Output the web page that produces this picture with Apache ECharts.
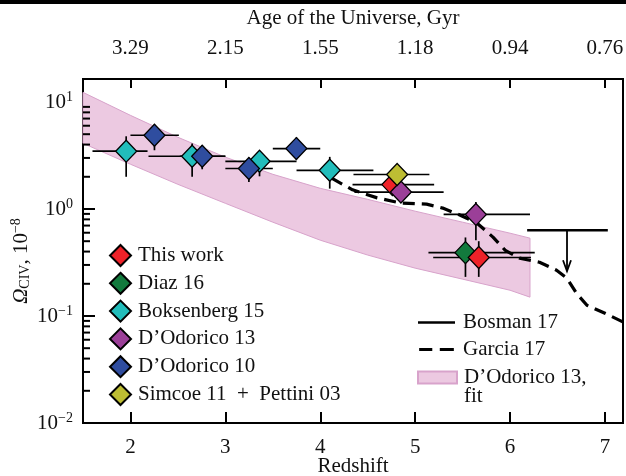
<!DOCTYPE html>
<html>
<head>
<meta charset="utf-8">
<script src="https://cdn.jsdelivr.net/npm/echarts@6/dist/echarts.min.js"></script>
<style>
  html, body { margin: 0; padding: 0; background: #fff; }
  #chart { width: 626px; height: 476px; }
</style>
</head>
<body>
<div id="chart"></div>
<script>
const FONT = 'Liberation Serif';
const INK = '#111';

// Redshift ticks and the age of the Universe at each of them (Gyr)
const redshiftTicks = [2, 3, 4, 5, 6, 7];
const ageLabels = ['3.29', '2.15', '1.55', '1.18', '0.94', '0.76'];

// Measurements, one row per point: [z, Ω, zLow, zHigh, ΩLow, ΩHigh]
const thisWork    = [[4.76, 1.69, 4.34, 5.20, 1.42, 2.00], [5.67, 0.352, 5.19, 6.22, 0.232, 0.50]];
const diaz16      = [[5.53, 0.391, 5.14, 6.26, 0.232, 0.542]];
const boksenberg15 = [
  [1.955, 3.47, 1.60, 2.18, 2.00, 4.78],
  [2.65, 3.11, 2.19, 3.00, 2.00, 4.09],
  [3.36, 2.79, 3.00, 3.75, 2.02, 3.49],
  [4.10, 2.30, 3.75, 4.56, 1.55, 3.07]
];
const dodorico13  = [[4.85, 1.44, 4.36, 5.30, 1.20, 1.70], [5.64, 0.89, 5.30, 6.21, 0.51, 1.16]];
const dodorico10  = [
  [2.253, 4.89, 2.00, 2.51, 3.54, 6.15],
  [2.756, 3.11, 2.52, 3.00, 2.35, 3.94],
  [3.248, 2.39, 3.00, 3.50, 1.79, 3.03],
  [3.748, 3.67, 3.50, 4.00, 2.90, 4.65]
];
const simcoePettini = [[4.81, 2.10, 4.35, 5.15, 1.70, 2.56]];

// Bosman 17 upper limit: horizontal bar and arrow
const bosmanBar   = [[6.18, 0.634], [7.03, 0.634]];
const bosmanArrow = [[6.60, 0.634, 0.262]];

// Garcia 17 curve
const garciaZ     = [4.12, 4.34, 4.60, 4.84, 5.12, 5.29, 5.47, 5.65, 5.82, 5.95, 6.10, 6.31, 6.49, 6.60, 6.70, 6.81, 7.00, 7.19];
const garciaOmega = [1.94, 1.51, 1.27, 1.14, 1.11, 1.02, 0.88, 0.74, 0.546, 0.41, 0.347, 0.318, 0.268, 0.225, 0.163, 0.126, 0.106, 0.088];

// D'Odorico 13 fit band
const bandZ    = [1.5, 2.0, 2.5, 3.0, 3.5, 4.0, 4.5, 5.0, 5.5, 6.0, 6.21];
const bandLow  = [4.11, 2.62, 1.70, 1.13, 0.753, 0.511, 0.371, 0.280, 0.221, 0.174, 0.150];
const bandHigh = [12.3, 7.5, 4.68, 3.05, 2.11, 1.56, 1.23, 0.954, 0.753, 0.594, 0.534];

// Minor ticks of the logarithmic Ω axis
const minorTicks = [];
[0.01, 0.1, 1].forEach(d => { for (let k = 2; k <= 9; k++) minorTicks.push(+(k * d).toPrecision(3)); });

const Z_MIN = 1.5, Z_MAX = 7.19;

const pointSets = [
  { name: 'Diaz 16', data: diaz16, color: '#127a3d' },
  { name: 'This work', data: thisWork, color: '#ee2229' },
  { name: 'Boksenberg 15', data: boksenberg15, color: '#22bdbb' },
  { name: 'D’Odorico 13', data: dodorico13, color: '#9b3f98' },
  { name: 'D’Odorico 10', data: dodorico10, color: '#2f4d9f' },
  { name: 'Simcoe 11  +  Pettini 03', data: simcoePettini, color: '#bdbd33' }
];

const errorRows = [];
pointSets.forEach(s => s.data.forEach(r => errorRows.push(r)));

const chart = echarts.init(document.getElementById('chart'), null, { renderer: 'canvas' });

const supStyle = { fontFamily: FONT, fontSize: 14, color: INK, padding: [0, 0, 10, 0] };
const baseStyle = { fontFamily: FONT, fontSize: 21, color: INK };

function decadeLabel(v) {
  const e = Math.log10(v);
  const r = Math.round(e);
  if (Math.abs(e - r) > 1e-6) return '';
  return '{b|10}{s|' + (r < 0 ? '\u2212' + (-r) : r) + '}';
}

const series = [];

// fit band
series.push({
  name: 'D’Odorico 13, fit',
  type: 'custom',
  z: 1,
  data: bandZ.map((z, i) => [z, bandLow[i], bandHigh[i]]),
  encode: { x: 0, y: [1, 2] },
  itemStyle: { color: '#ecc9e1', borderColor: '#d8a3cb', borderWidth: 1 },
  renderItem(params, api) {
    if (params.dataIndex !== 0) return null;
    const pts = [];
    for (let i = 0; i < bandZ.length; i++) pts.push(api.coord([bandZ[i], bandHigh[i]]));
    for (let i = bandZ.length - 1; i >= 0; i--) pts.push(api.coord([bandZ[i], bandLow[i]]));
    return { type: 'polygon', shape: { points: pts }, style: { fill: '#ecc9e1', stroke: '#d8a3cb', lineWidth: 1 } };
  },
  silent: true
});

// Garcia 17
series.push({
  name: 'Garcia 17',
  type: 'line',
  z: 2,
  data: garciaZ.map((z, i) => [z, garciaOmega[i]]),
  symbol: 'none',
  itemStyle: { color: '#000' },
  lineStyle: { color: '#000', width: 3.2, type: [12, 7] },
  silent: true
});

// Bosman 17
series.push({
  name: 'Bosman 17',
  type: 'line',
  z: 2,
  data: bosmanBar,
  symbol: 'none',
  itemStyle: { color: '#000' },
  lineStyle: { color: '#000', width: 2.5 },
  silent: true
});
series.push({
  name: 'Bosman 17 arrow',
  type: 'custom',
  z: 2,
  data: bosmanArrow,
  encode: { x: 0, y: [1, 2] },
  renderItem(params, api) {
    const top = api.coord([api.value(0), api.value(1)]);
    const tip = api.coord([api.value(0), api.value(2)]);
    return {
      type: 'group',
      children: [
        { type: 'line', shape: { x1: top[0], y1: top[1], x2: tip[0], y2: tip[1] }, style: { stroke: '#000', lineWidth: 1.8 } },
        { type: 'polyline', shape: { points: [[tip[0] - 4, tip[1] - 11], [tip[0], tip[1]], [tip[0] + 4, tip[1] - 11]] }, style: { stroke: '#000', lineWidth: 1.8, fill: null } }
      ]
    };
  },
  silent: true
});

// error bars
series.push({
  name: 'errors',
  type: 'custom',
  z: 3,
  data: errorRows,
  encode: { x: [0, 2, 3], y: [1, 4, 5] },
  renderItem(params, api) {
    const z = api.value(0), om = api.value(1);
    const l = api.coord([api.value(2), om]);
    const r = api.coord([api.value(3), om]);
    const lo = api.coord([z, api.value(4)]);
    const hi = api.coord([z, api.value(5)]);
    const st = { stroke: '#000', lineWidth: 1.7 };
    return {
      type: 'group',
      children: [
        { type: 'line', shape: { x1: l[0], y1: l[1], x2: r[0], y2: r[1] }, style: st },
        { type: 'line', shape: { x1: lo[0], y1: lo[1], x2: hi[0], y2: hi[1] }, style: st }
      ]
    };
  },
  silent: true
});

// diamonds
pointSets.forEach((s, i) => {
  series.push({
    name: s.name,
    type: 'scatter',
    z: 4 + i,
    data: s.data.map(r => [r[0], r[1]]),
    symbol: 'diamond',
    symbolSize: [21, 22],
    itemStyle: { color: s.color, borderColor: '#000', borderWidth: 1.3, opacity: 1 },
    silent: true
  });
});

// minor ticks on the Ω axis
series.push({
  name: 'minor ticks',
  type: 'custom',
  z: 10,
  data: minorTicks.map(v => [Z_MIN, v]),
  renderItem(params, api) {
    const p = api.coord([api.value(0), api.value(1)]);
    return { type: 'line', shape: { x1: p[0], y1: p[1], x2: p[0] + 7, y2: p[1] }, style: { stroke: '#000', lineWidth: 2 } };
  },
  clip: false,
  silent: true
});

const option = {
  animation: false,
  backgroundColor: '#fff',
  textStyle: { fontFamily: FONT },
  grid: {
    left: 83, right: 3, top: 79, bottom: 53, containLabel: false, outerBoundsMode: 'none',
    show: true, borderColor: '#000', borderWidth: 2, backgroundColor: 'transparent'
  },
  xAxis: [
    {
      type: 'value', position: 'bottom', min: Z_MIN, max: Z_MAX,
      axisLine: { lineStyle: { color: '#000', width: 2 } },
      axisTick: { inside: true, length: 11, lineStyle: { color: '#000', width: 2 }, customValues: redshiftTicks },
      axisLabel: { customValues: redshiftTicks, margin: 14, fontFamily: FONT, fontSize: 21, color: INK },
      splitLine: { show: false },
      name: 'Redshift', nameLocation: 'middle', nameGap: 33, nameMoveOverlap: false,
      nameTextStyle: { fontFamily: FONT, fontSize: 21, color: INK }
    },
    {
      type: 'value', position: 'top', min: Z_MIN, max: Z_MAX,
      axisLine: { lineStyle: { color: '#000', width: 2 } },
      axisTick: { inside: true, length: 9, lineStyle: { color: '#000', width: 2 }, customValues: redshiftTicks },
      axisLabel: {
        customValues: redshiftTicks, margin: 20, fontFamily: FONT, fontSize: 21, color: INK,
        formatter: v => ageLabels[redshiftTicks.indexOf(Math.round(v))]
      },
      splitLine: { show: false },
      name: 'Age of the Universe, Gyr', nameLocation: 'middle', nameGap: 50,
      nameTextStyle: { fontFamily: FONT, fontSize: 21, color: INK }
    }
  ],
  yAxis: {
    type: 'log', logBase: 10, min: 0.01, max: 16.4,
    axisLine: { lineStyle: { color: '#000', width: 2 } },
    axisTick: { inside: true, length: 12, lineStyle: { color: '#000', width: 2 } },
    axisLabel: { margin: 10, formatter: decadeLabel, rich: { b: baseStyle, s: supStyle } },
    splitLine: { show: false },
    minorTick: { show: false },
    name: '{o|Ω}{c|CIV}{t|, 10}{s|\u22128}{p|}',
    nameLocation: 'middle', nameGap: 50, nameRotate: 90, nameMoveOverlap: false,
    nameTextStyle: {
      rich: {
        o: { fontFamily: FONT, fontSize: 21, fontStyle: 'italic', color: INK },
        c: { fontFamily: FONT, fontSize: 14, color: INK, padding: [8, 0, 0, 0] },
        t: { fontFamily: FONT, fontSize: 21, color: INK },
        s: supStyle,
        p: { width: 20, fontSize: 21 }
      }
    }
  },
  legend: [
    {
      data: ['This work', 'Diaz 16', 'Boksenberg 15', 'D’Odorico 13', 'D’Odorico 10', 'Simcoe 11  +  Pettini 03'],
      orient: 'vertical', left: 109, top: 244, padding: 0,
      itemWidth: 21, itemHeight: 21, itemGap: 4.8, itemSymbolKeepAspect: true,
      selectedMode: false,
      textStyle: { fontFamily: FONT, fontSize: 21, color: INK, padding: [0, 0, 0, 2] }
    },
    {
      data: [
        { name: 'Bosman 17', icon: 'path://M0,0H37V2.5H0Z' },
        { name: 'Garcia 17', icon: 'path://M0,0H14V3.2H0Z M22,0H37V3.2H22Z' }
      ],
      orient: 'vertical', left: 418, top: 312, padding: 0,
      itemWidth: 37, itemHeight: 3, itemGap: 6, itemSymbolKeepAspect: false, selectedMode: false,
      itemStyle: { color: '#000', borderWidth: 0 },
      textStyle: { fontFamily: FONT, fontSize: 21, color: INK, padding: [0, 0, 0, 3] }
    },
    {
      data: [{ name: 'D’Odorico 13, fit', icon: 'rect' }],
      formatter: () => 'D’Odorico 13,',
      orient: 'vertical', left: 417, top: 367, padding: 0,
      itemWidth: 39, itemHeight: 12, selectedMode: false,
      textStyle: { fontFamily: FONT, fontSize: 21, color: INK, padding: [0, 0, 0, 2] }
    }
  ],
  graphic: [
    { type: 'rect', left: 0, top: 0, shape: { width: 626, height: 4 }, style: { fill: '#000' }, z: 100 },
    { type: 'text', left: 464, top: 386, style: { text: 'fit', font: '21px "Liberation Serif"', fill: INK }, z: 100 }
  ],
  series
};

chart.setOption(option);
</script>
</body>
</html>
